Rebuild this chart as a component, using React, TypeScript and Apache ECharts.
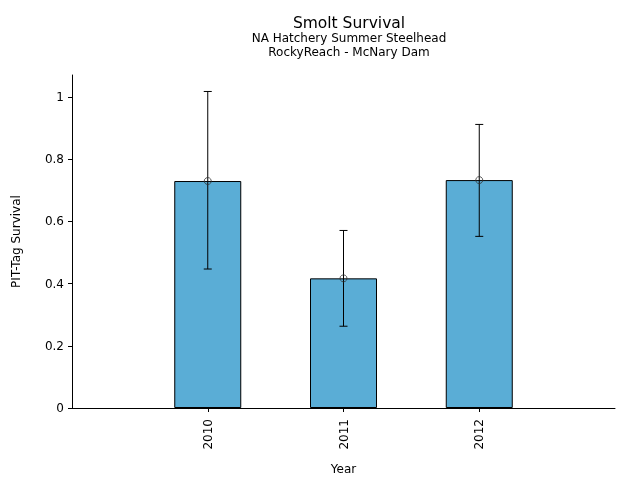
import React, { useEffect, useRef } from "react";
import * as echarts from "echarts";

const years = ["2010", "2011", "2012"];
const survival = [0.73, 0.417, 0.733];
const lower = [0.447, 0.263, 0.552];
const upper = [1.018, 0.571, 0.912];
const yTicks = [0, 0.2, 0.4, 0.6, 0.8, 1];

export default function App() {
  const ref = useRef<HTMLDivElement>(null);
  useEffect(() => {
    if (!ref.current) return;
    const chart = echarts.init(ref.current, undefined, { renderer: "svg" });
    const cats = ["", ...years, ""];
    const barData = cats.map((_, i) => (i >= 1 && i <= years.length ? survival[i - 1] : "-"));
    const errData = years.map((_, i) => [i + 1, lower[i], upper[i]]);
    const ptData = years.map((_, i) => [i + 1, survival[i]]);
    const font = "DejaVu Sans";
    chart.setOption({
      animation: false,
      textStyle: { fontFamily: font },
      title: {
        text: "Smolt Survival",
        subtext: "NA Hatchery Summer Steelhead\nRockyReach - McNary Dam",
        left: 344,
        textAlign: "center",
        top: 10,
        itemGap: 0,
        textStyle: { fontFamily: font, fontSize: 15.5, fontWeight: "normal", color: "#000" },
        subtextStyle: { fontFamily: font, fontSize: 12, color: "#000", lineHeight: 14 },
      },
      grid: { left: 72, right: 25, top: 75, bottom: 70.5 },
      xAxis: {
        type: "category",
        data: cats,
        boundaryGap: false,
        name: "Year",
        nameLocation: "middle",
        nameGap: 55,
        nameTextStyle: { fontFamily: font, fontSize: 12, color: "#000" },
        axisLine: { lineStyle: { color: "#000", width: 1 } },
        axisTick: {
          length: 4,
          interval: (i: number) => i >= 1 && i <= years.length,
          lineStyle: { color: "#000" },
        },
        axisLabel: {
          interval: 0,
          rotate: 90,
          margin: 11,
          fontFamily: font,
          fontSize: 12,
          color: "#000",
        },
        splitLine: { show: false },
      },
      yAxis: {
        type: "value",
        min: 0,
        max: 1.071,
        interval: 0.2,
        name: "PIT-Tag Survival",
        nameLocation: "middle",
        nameGap: 50,
        nameTextStyle: { fontFamily: font, fontSize: 12, color: "#000" },
        axisLine: { show: true, lineStyle: { color: "#000", width: 1 } },
        axisTick: { show: true, length: 4, lineStyle: { color: "#000" }, customValues: yTicks },
        axisLabel: {
          fontFamily: font,
          fontSize: 12,
          color: "#000",
          margin: 8,
          customValues: yTicks,
          formatter: (v: number) => String(Math.round(v * 10) / 10),
        },
        splitLine: { show: false },
      },
      series: [
        {
          type: "bar",
          data: barData,
          barWidth: 67,
          itemStyle: { color: "#5aadd6", borderColor: "#000", borderWidth: 1 },
          z: 2,
        },
        {
          type: "custom",
          data: errData,
          z: 3,
          renderItem: (params: any, api: any) => {
            const x = api.value(0);
            const lo = api.coord([x, api.value(1)]);
            const hi = api.coord([x, api.value(2)]);
            const cap = 4;
            const style = { stroke: "#000", lineWidth: 1 };
            return {
              type: "group",
              children: [
                { type: "line", shape: { x1: lo[0], y1: lo[1], x2: hi[0], y2: hi[1] }, style },
                { type: "line", shape: { x1: lo[0] - cap, y1: lo[1], x2: lo[0] + cap, y2: lo[1] }, style },
                { type: "line", shape: { x1: hi[0] - cap, y1: hi[1], x2: hi[0] + cap, y2: hi[1] }, style },
              ],
            };
          },
        },
        {
          type: "scatter",
          data: ptData,
          symbol: "circle",
          symbolSize: 7,
          z: 4,
          itemStyle: { color: "rgba(0,0,0,0)", borderColor: "#333", borderWidth: 1 },
        },
      ],
    });
    return () => chart.dispose();
  }, []);
  return (
    <div
      ref={ref}
      style={{ position: "fixed", left: 0, top: 0, width: 640, height: 480 }}
    />
  );
}
